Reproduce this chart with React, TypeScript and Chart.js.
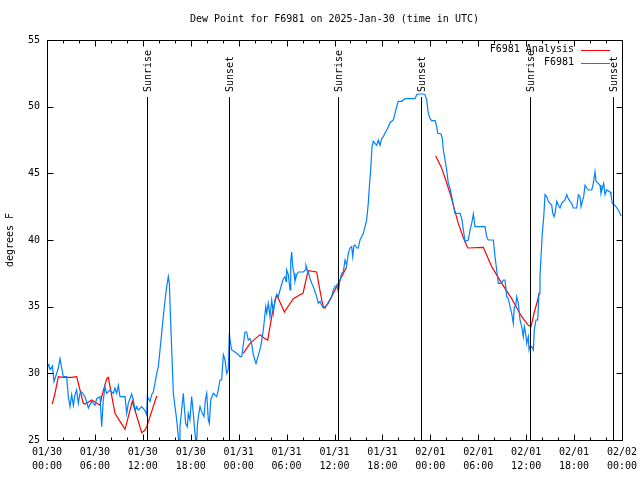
import { useEffect, useRef } from "react";
import { Chart, registerables } from "chart.js";

Chart.register(...registerables);

const TITLE = "Dew Point for F6981 on 2025-Jan-30 (time in UTC)";
const Y_LABEL = "degrees F";
const FONT = "'DejaVu Sans Mono', 'Liberation Mono', monospace";

const X_TICK_HOURS = [0, 6, 12, 18, 24, 30, 36, 42, 48, 54, 60, 66, 72];
const X_TICK_DATES = ["01/30", "01/30", "01/30", "01/30", "01/31", "01/31", "01/31", "01/31", "02/01", "02/01", "02/01", "02/01", "02/02"];
const X_TICK_TIMES = ["00:00", "06:00", "12:00", "18:00", "00:00", "06:00", "12:00", "18:00", "00:00", "06:00", "12:00", "18:00", "00:00"];
const Y_TICKS = [25, 30, 35, 40, 45, 50, 55];

const SUN_HOURS = [12.56, 22.85, 36.48, 46.83, 60.48, 70.87];
const SUN_LABELS = ["Sunrise", "Sunset", "Sunrise", "Sunset", "Sunrise", "Sunset"];

const OBS_LABEL = "F6981";
const OBS_HOURS = [
  0.16, 0.25, 0.46, 0.67, 0.88, 1.21, 1.42, 1.63, 1.84, 2.04, 2.46, 2.67, 2.88, 3.09, 3.3, 3.51, 3.71, 3.92, 4.13, 4.34,
  4.76, 5.18, 5.59, 6.01, 6.22, 6.64, 6.85, 7.05, 7.26, 7.47, 7.89, 8.31, 8.51, 8.72, 8.93, 9.14, 9.77, 9.98, 10.18, 10.6,
  10.81, 11.02, 11.23, 11.43, 11.86, 12.27, 12.48, 12.56, 12.9, 13.11, 13.31, 13.52, 13.74, 13.94, 14.15, 14.36, 14.56, 14.78, 14.99, 15.19,
  15.32, 15.49, 15.65, 15.82, 16.03, 16.24, 16.44, 16.57, 16.65, 16.86, 17.07, 17.19, 17.36, 17.57, 17.69, 17.9, 18.11, 18.32, 18.45, 18.62,
  18.74, 18.82, 18.95, 19.16, 19.45, 19.66, 19.83, 20.0, 20.2, 20.33, 20.5, 20.66, 20.83, 21.25, 21.45, 21.66, 21.87, 22.08, 22.29, 22.5,
  22.7, 22.83, 22.92, 23.12, 23.54, 23.96, 24.17, 24.38, 24.79, 25.0, 25.2, 25.42, 25.63, 25.83, 26.17, 26.42, 26.76, 27.09, 27.39, 27.51,
  27.71, 27.92, 28.14, 28.34, 28.55, 28.76, 28.96, 29.18, 29.59, 29.8, 29.93, 30.01, 30.22, 30.43, 30.52, 30.64, 30.77, 30.93, 31.05, 31.27,
  31.47, 32.1, 32.31, 32.43, 32.6, 32.72, 32.93, 33.15, 33.35, 33.56, 33.77, 33.97, 34.19, 34.4, 34.6, 34.81, 35.02, 35.23, 35.44, 35.65,
  35.85, 36.06, 36.28, 36.48, 36.69, 36.9, 37.1, 37.32, 37.53, 37.73, 37.94, 38.15, 38.28, 38.44, 38.6, 38.78, 38.98, 39.19, 39.41, 39.61,
  39.82, 40.03, 40.23, 40.36, 40.53, 40.7, 40.86, 41.07, 41.28, 41.49, 41.7, 41.91, 42.11, 42.32, 42.54, 42.74, 42.95, 43.36, 43.58, 43.79,
  43.99, 44.42, 44.62, 44.83, 45.45, 46.08, 46.29, 46.49, 47.12, 47.33, 47.54, 47.75, 47.96, 48.17, 48.59, 48.8, 48.92, 49.34, 49.5, 49.63,
  49.84, 50.05, 50.25, 50.46, 50.68, 50.88, 51.09, 51.72, 51.93, 52.14, 52.34, 52.76, 52.97, 53.18, 53.39, 53.59, 54.85, 55.06, 55.26, 55.89,
  56.1, 56.31, 56.51, 56.93, 57.14, 57.35, 57.56, 57.77, 57.98, 58.19, 58.39, 58.52, 58.69, 58.81, 59.02, 59.23, 59.44, 59.64, 59.77, 59.94,
  60.07, 60.27, 60.36, 60.48, 60.69, 60.9, 61.02, 61.23, 61.44, 61.61, 61.73, 61.86, 62.02, 62.2, 62.36, 62.57, 62.78, 62.99, 63.2, 63.33,
  63.49, 63.62, 63.83, 64.03, 64.24, 64.45, 64.66, 64.86, 65.08, 65.28, 65.49, 65.7, 65.9, 66.33, 66.53, 66.74, 66.87, 67.03, 67.2, 67.37,
  67.58, 67.78, 68.21, 68.41, 68.62, 68.75, 69.03, 69.25, 69.37, 69.54, 69.71, 69.87, 70.08, 70.5, 70.62, 70.79, 71.13, 71.54, 71.9,
];
const OBS_VALUES = [
  30.7, 30.5, 30.3, 30.55, 29.4, 30.0, 30.4, 31.1, 30.4, 29.75, 29.75, 28.25, 27.5, 28.4, 27.6, 28.4, 28.75, 27.75, 28.5, 28.6,
  28.25, 27.4, 27.9, 27.6, 28.1, 28.25, 26.0, 28.0, 29.0, 28.5, 28.75, 28.5, 28.9, 28.5, 29.1, 28.25, 28.25, 27.0, 27.75, 28.45,
  28.0, 27.25, 27.5, 27.25, 27.5, 27.2, 26.9, 28.25, 27.9, 28.4, 28.6, 29.25, 30.0, 30.5, 31.75, 33.0, 34.25, 35.5, 36.5, 37.25,
  36.75, 33.75, 31.25, 28.5, 27.5, 26.5, 25.25, 24.8, 26.0, 27.25, 28.5, 27.5, 26.25, 26.0, 27.0, 26.5, 28.25, 27.0, 26.0, 25.0,
  24.8, 26.0, 26.75, 27.5, 27.0, 26.75, 28.0, 28.5, 26.5, 26.25, 28.0, 28.25, 28.5, 28.25, 28.75, 29.5, 29.5, 31.4, 31.0, 30.0,
  30.25, 33.0, 32.5, 31.75, 31.6, 31.4, 31.25, 31.25, 33.1, 33.1, 32.5, 32.6, 32.25, 31.4, 30.75, 31.25, 32.0, 33.25, 35.0, 34.5,
  35.25, 34.25, 35.5, 34.5, 35.5, 35.9, 35.75, 36.25, 37.1, 37.25, 36.9, 37.75, 37.4, 36.25, 38.4, 39.1, 38.0, 37.5, 36.9, 37.4,
  37.6, 37.6, 37.75, 38.1, 37.75, 37.6, 37.1, 36.75, 36.5, 36.1, 35.75, 35.25, 35.4, 35.1, 34.9, 35.0, 35.1, 35.25, 35.5, 35.75,
  36.25, 36.5, 36.6, 36.1, 37.0, 37.5, 37.6, 38.5, 38.1, 39.0, 39.4, 39.5, 38.75, 39.6, 39.6, 39.4, 39.4, 40.0, 40.25, 40.5,
  41.0, 41.5, 42.75, 44.0, 45.25, 47.0, 47.4, 47.25, 47.1, 47.5, 47.1, 47.6, 47.75, 48.0, 48.25, 48.5, 48.8, 49.0, 49.5, 50.0,
  50.4, 50.4, 50.5, 50.6, 50.6, 50.6, 50.9, 50.95, 50.95, 50.9, 50.5, 49.5, 49.1, 48.95, 48.95, 48.5, 48.0, 47.95, 47.6, 46.75,
  46.0, 45.25, 44.25, 43.9, 43.25, 42.6, 42.0, 42.0, 41.6, 40.75, 39.9, 40.0, 40.75, 41.25, 41.95, 41.0, 41.0, 40.25, 40.0, 40.0,
  38.75, 37.75, 36.75, 36.75, 37.0, 37.0, 35.75, 35.6, 35.0, 34.5, 33.75, 35.0, 35.0, 35.75, 35.25, 34.0, 33.5, 32.75, 33.5, 33.0,
  32.25, 32.75, 31.75, 32.0, 32.0, 31.75, 33.25, 34.0, 34.0, 36.0, 37.25, 38.75, 40.5, 41.75, 43.4, 43.25, 42.9, 42.75, 42.6, 42.0,
  41.75, 42.0, 42.9, 42.6, 42.4, 42.75, 42.9, 43.0, 43.4, 43.1, 42.9, 42.75, 42.4, 42.4, 43.4, 43.25, 42.5, 42.9, 43.25, 44.1,
  43.9, 43.75, 43.75, 44.25, 45.1, 44.4, 44.25, 44.1, 43.5, 43.9, 44.25, 43.4, 43.75, 43.6, 43.4, 42.75, 42.6, 42.25, 41.8,
];

const ANALYSIS_LABEL = "F6981 Analysis";
const ANALYSIS_HOURS = [
  0.66, 1.0, 1.42, 2.04, 3.09, 3.72, 4.13, 4.55, 4.76, 5.6, 6.64, 6.85, 7.48, 7.68, 8.51, 9.14, 9.77, 10.68, 11.86, 12.27, 12.48, 12.9, 13.74,
  19.0,
  24.58, 25.42, 26.67, 27.17, 27.64, 28.21, 28.76, 29.72, 30.84, 31.68, 32.06, 32.52, 32.72, 33.77, 33.97, 34.4, 34.6, 34.81, 35.65, 36.48, 37.53,
  43.0,
  48.67, 49.34, 49.93, 50.59, 51.5, 52.09, 52.68, 54.63, 55.69, 56.94, 58.19, 59.44, 60.27, 60.61, 61.02, 61.45, 61.61,
];
const ANALYSIS_VALUES: (number | null)[] = [
  27.7, 28.5, 29.75, 29.7, 29.7, 29.75, 28.75, 27.75, 27.7, 28.0, 27.6, 28.25, 29.6, 29.7, 27.0, 26.4, 25.8, 27.9, 25.55, 25.75, 26.0, 26.75, 28.3,
  null,
  31.5, 32.25, 32.9, 32.65, 32.5, 34.5, 35.9, 34.6, 35.6, 35.9, 36.0, 37.25, 37.7, 37.6, 36.9, 35.5, 35.0, 34.9, 35.75, 36.75, 38.0,
  null,
  46.3, 45.5, 44.5, 43.25, 41.25, 40.25, 39.4, 39.45, 38.0, 36.75, 35.6, 34.25, 33.6, 33.5, 34.6, 35.5, 36.0,
];

const decorPlugin = {
  id: "decor",
  afterDatasetsDraw(chart: any) {
    const { ctx, chartArea: a, scales } = chart;
    const xs = scales.x;
    const ys = scales.y;
    const L = Math.round(a.left) + 0.5;
    const R = Math.round(a.right) + 0.5;
    const T = Math.round(a.top) + 0.5;
    const B = Math.round(a.bottom) + 0.5;
    ctx.save();
    ctx.strokeStyle = "#000";
    ctx.lineWidth = 1;
    ctx.lineCap = "butt";

    // sunrise / sunset markers
    ctx.font = `10px ${FONT}`;
    ctx.fillStyle = "#000";
    SUN_HOURS.forEach((h, i) => {
      const px = Math.round(xs.getPixelForValue(h)) + 0.5;
      ctx.beginPath();
      ctx.moveTo(px, 97);
      ctx.lineTo(px, B);
      ctx.stroke();
      ctx.save();
      ctx.translate(px + 0.5, 92);
      ctx.rotate(-Math.PI / 2);
      ctx.textAlign = "left";
      ctx.textBaseline = "middle";
      ctx.fillText(SUN_LABELS[i], 0, 0);
      ctx.restore();
    });

    // frame
    ctx.strokeRect(L, T, R - L, B - T);

    // x ticks (inward, mirrored) major every 6h, minor every 2h
    for (let h = 0; h <= 72; h += 2) {
      const major = X_TICK_HOURS.includes(h);
      const len = major ? 6 : 3;
      const px = Math.round(xs.getPixelForValue(h)) + 0.5;
      ctx.beginPath();
      ctx.moveTo(px, B);
      ctx.lineTo(px, B - len);
      ctx.moveTo(px, T);
      ctx.lineTo(px, T + len);
      ctx.stroke();
    }
    // y ticks
    Y_TICKS.forEach((v) => {
      const py = Math.round(ys.getPixelForValue(v)) + 0.5;
      ctx.beginPath();
      ctx.moveTo(L, py);
      ctx.lineTo(L + 6, py);
      ctx.moveTo(R, py);
      ctx.lineTo(R - 6, py);
      ctx.stroke();
    });

    // title
    ctx.fillStyle = "#000";
    ctx.font = `10px ${FONT}`;
    ctx.textAlign = "center";
    ctx.textBaseline = "middle";
    ctx.fillText(TITLE, (a.left + a.right) / 2, 19);

    // y label
    ctx.save();
    ctx.translate(10, (a.top + a.bottom) / 2);
    ctx.rotate(-Math.PI / 2);
    ctx.fillText(Y_LABEL, 0, 0);
    ctx.restore();

    // legend
    const rows = [chart.data.datasets[0], chart.data.datasets[1]];
    rows.forEach((ds: any, i: number) => {
      const yy = 49.5 + i * 13;
      ctx.textAlign = "right";
      ctx.textBaseline = "middle";
      ctx.fillStyle = "#000";
      ctx.fillText(ds.label, 574, yy);
      ctx.strokeStyle = ds.borderColor;
      ctx.lineWidth = 1;
      ctx.beginPath();
      ctx.moveTo(581, Math.round(yy) + 0.5);
      ctx.lineTo(610, Math.round(yy) + 0.5);
      ctx.stroke();
    });
    ctx.restore();
  },
};

export default function App() {
  const ref = useRef<HTMLCanvasElement | null>(null);
  useEffect(() => {
    if (!ref.current) return;
    const obs = OBS_HOURS.map((h, i) => ({ x: h, y: OBS_VALUES[i] }));
    const ana = ANALYSIS_HOURS.map((h, i) => ({ x: h, y: ANALYSIS_VALUES[i] }));
    const chart = new Chart(ref.current, {
      type: "line",
      data: {
        datasets: [
          {
            label: ANALYSIS_LABEL,
            data: ana as any,
            borderColor: "#ff0000",
            borderWidth: 1.2,
            pointRadius: 0,
            spanGaps: false,
            order: 1,
          },
          {
            label: OBS_LABEL,
            data: obs,
            borderColor: "#0080ff",
            borderWidth: 1.2,
            pointRadius: 0,
            order: 0,
          },
        ],
      },
      options: {
        animation: false,
        responsive: false,
        maintainAspectRatio: false,
        devicePixelRatio: 1,
        parsing: false as any,
        layout: { padding: { top: 40, right: 18, bottom: 0, left: 0 } },
        plugins: {
          legend: { display: false },
          title: { display: false },
          tooltip: { enabled: false },
        },
        elements: { line: { tension: 0 }, point: { radius: 0 } },
        scales: {
          x: {
            type: "linear",
            min: 0,
            max: 72,
            afterFit: (s: any) => {
              s.height = 40;
              s.paddingLeft = 0;
              s.paddingRight = 0;
            },
            afterBuildTicks: (s: any) => {
              s.ticks = X_TICK_HOURS.map((v) => ({ value: v }));
            },
            ticks: {
              autoSkip: false,
              maxRotation: 0,
              minRotation: 0,
              padding: 5,
              color: "#000",
              font: { family: FONT, size: 10, lineHeight: 1.4 },
              callback: (v: any) => {
                const i = X_TICK_HOURS.indexOf(Number(v));
                return [X_TICK_DATES[i], X_TICK_TIMES[i]];
              },
            },
            grid: { display: false, drawTicks: false },
            border: { display: false },
          },
          y: {
            type: "linear",
            min: 25,
            max: 55,
            afterFit: (s: any) => {
              s.width = 47;
              s.paddingTop = 0;
              s.paddingBottom = 0;
            },
            afterBuildTicks: (s: any) => {
              s.ticks = Y_TICKS.map((v) => ({ value: v }));
            },
            ticks: {
              padding: 7,
              color: "#000",
              font: { family: FONT, size: 10 },
              callback: (v: any) => String(v),
            },
            grid: { display: false, drawTicks: false },
            border: { display: false },
          },
        },
      },
      plugins: [decorPlugin],
    });
    return () => chart.destroy();
  }, []);
  return (
    <div style={{ position: "absolute", left: 0, top: 0, width: 640, height: 480, background: "#fff" }}>
      <canvas ref={ref} width={640} height={480} style={{ display: "block", width: 640, height: 480 }} />
    </div>
  );
}
